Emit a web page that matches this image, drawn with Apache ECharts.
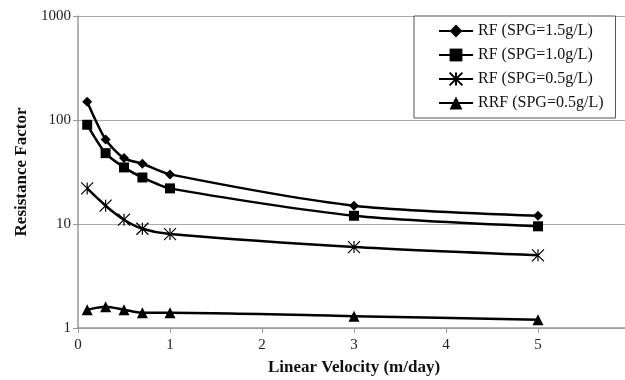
<!DOCTYPE html>
<html>
<head>
<meta charset="utf-8">
<script src="https://cdn.jsdelivr.net/npm/echarts@6/dist/echarts.min.js"></script>
<style>
  html, body { margin: 0; padding: 0; background: #fff; }
  #chart { width: 625px; height: 380px; }
</style>
</head>
<body>
<div id="chart"></div>
<script>
// velocities (m/day) and resistance factors
const velocity = [0.1, 0.3, 0.5, 0.7, 1, 3, 5];
const rf15 = [150, 65, 43, 38, 30, 15, 12];
const rf10 = [90, 48, 35, 28, 22, 12, 9.5];
const rf05 = [22, 15, 11, 9, 8, 6, 5];
const rrf05 = [1.5, 1.6, 1.5, 1.4, 1.4, 1.3, 1.2];
const seriesNames = ["RF (SPG=1.5g/L)", "RF (SPG=1.0g/L)", "RF (SPG=0.5g/L)", "RRF (SPG=0.5g/L)"];

const FONT = "'Liberation Serif', 'DejaVu Serif', serif";
const STAR = "path://M0,0L10,10M10,0L0,10M5,0L5,10";

const pts = (ys) => velocity.map((x, i) => [x, ys[i]]);

function lineSeries(name, ys, symbol, size, extra) {
  return Object.assign({
    name,
    type: "line",
    data: pts(ys),
    smooth: 0.25,
    symbol,
    symbolSize: size,
    lineStyle: { color: "#000", width: 2.5 },
    itemStyle: { color: "#000" },
  }, extra || {});
}

const chart = echarts.init(document.getElementById("chart"));
chart.setOption({
  animation: false,
  textStyle: { fontFamily: FONT },
  grid: { left: 78, right: -5, top: 16, bottom: 52, outerBoundsMode: "none", containLabel: false },
  legend: {
    orient: "vertical",
    left: 414,
    top: 16,
    padding: [7, 12, 7, 24],
    itemGap: 8,
    itemWidth: 34,
    itemHeight: 16,
    backgroundColor: "#fff",
    borderColor: "#555",
    borderWidth: 1,
    textStyle: { fontFamily: FONT, fontSize: 16, color: "#111" },
    data: seriesNames,
  },
  xAxis: {
    type: "value",
    min: 0,
    max: 6,
    interval: 1,
    axisLine: { onZero: false, lineStyle: { color: "#999", width: 1.5 } },
    axisTick: { show: true, length: 5, lineStyle: { color: "#999" } },
    splitLine: { show: false },
    axisLabel: { color: "#222", fontSize: 15, fontFamily: FONT, margin: 10, showMaxLabel: true, hideOverlap: false },
    name: "Linear Velocity (m/day)",
    nameLocation: "middle",
    nameGap: 31,
    nameTextStyle: { fontFamily: FONT, fontWeight: "bold", fontSize: 17, color: "#111" },
  },
  yAxis: {
    type: "log",
    logBase: 10,
    min: 1,
    max: 1000,
    axisLine: { show: true, lineStyle: { color: "#999", width: 1.5 } },
    axisTick: { show: true, length: 5, lineStyle: { color: "#999" } },
    splitLine: { show: true, lineStyle: { color: "#aaa", width: 1 } },
    minorTick: { show: false },
    axisLabel: { color: "#222", fontSize: 15, fontFamily: FONT, margin: 7, formatter: (v) => String(v) },
    name: "Resistance Factor",
    nameLocation: "middle",
    nameGap: 47,
    nameTextStyle: { fontFamily: FONT, fontWeight: "bold", fontSize: 17, color: "#111" },
  },
  series: [
    lineSeries(seriesNames[0], rf15, "diamond", 10),
    lineSeries(seriesNames[1], rf10, "rect", 10),
    lineSeries(seriesNames[2], rf05, STAR, 12, {
      itemStyle: { color: "#000", borderColor: "#000", borderWidth: 1.2 },
    }),
    lineSeries(seriesNames[3], rrf05, "triangle", 11),
  ],
});
</script>
</body>
</html>
